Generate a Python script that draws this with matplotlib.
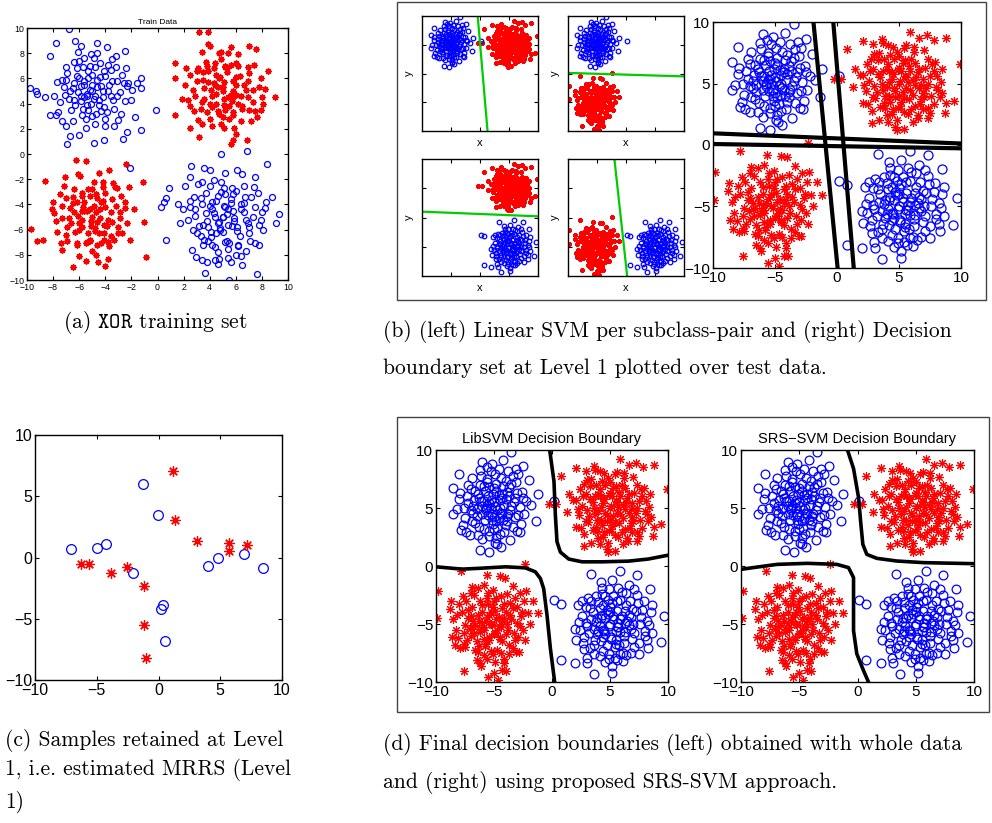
import numpy as np
import matplotlib.pyplot as plt
from matplotlib.patches import Rectangle

# ---------------- training data (a) ----------------
train_blue_ul = [
    (-5.2, 5.1), (-4.8, 4.6), (-5.6, 5.8), (-4.3, 5.4), (-6.1, 4.9), (-5.0, 6.3), (-4.5, 3.9), (-5.9, 4.2),
    (-3.8, 5.0), (-6.4, 5.6), (-5.3, 3.5), (-4.1, 6.6), (-6.8, 4.4), (-3.4, 4.3), (-5.7, 6.9), (-4.6, 5.9),
    (-5.1, 4.0), (-6.2, 6.2), (-3.9, 3.3), (-4.4, 7.2), (-6.6, 3.5), (-3.1, 5.8), (-5.5, 2.8), (-4.9, 7.6),
    (-7.2, 5.3), (-3.6, 6.7), (-5.8, 3.1), (-4.2, 4.5), (-6.0, 7.4), (-3.3, 3.6), (-7.5, 4.1), (-2.9, 4.9),
    (-5.4, 4.6), (-4.7, 3.2), (-6.3, 3.9), (-3.7, 5.5), (-5.0, 5.5), (-4.0, 2.8), (-6.9, 6.4), (-2.7, 6.3),
    (-7.6, 3.3), (-5.2, 7.0), (-3.0, 2.7), (-6.5, 2.6), (-4.4, 6.1), (-5.6, 4.5), (-3.5, 7.5), (-7.0, 6.9),
    (-2.5, 4.2), (-4.8, 2.4), (-6.7, 5.0), (-3.2, 6.9), (-5.9, 5.4), (-4.1, 3.7), (-5.3, 6.6), (-7.3, 2.6),
    (-2.8, 3.2), (-4.6, 8.0), (-6.1, 8.1), (-2.3, 5.4), (-6.8, 9.95), (-7.8, 8.8), (-8.26, 7.8), (-5.9, 8.6),
    (-4.6, 8.8), (-2.5, 8.2), (-9.8, 5.27), (-9.33, 5.0), (-9.2, 4.8), (-8.26, 3.1), (-7.8, 3.1), (-7.0, 2.25),
    (-6.94, 0.76), (-6.68, 1.4), (-6.04, 1.5), (-4.9, 0.9), (-4.1, 1.15), (-2.62, 1.2), (-2.3, 1.74),
    (-1.24, 1.9), (-1.75, 2.9), (-1.24, 5.2), (-1.24, 6.0), (-0.09, 3.5), (-1.55, 5.67), (-1.95, 5.1),
    (-2.26, 5.67), (-7.9, 4.6), (-7.3, 5.9), (-6.4, 7.3), (-5.1, 7.9), (-3.2, 7.8), (-2.4, 6.8),
    (-5.0, 5.0), (-4.6, 5.3), (-5.4, 4.8), (-4.9, 4.4), (-5.6, 5.5), (-4.2, 5.0), (-6.0, 6.0), (-5.3, 6.0),
    (-4.5, 4.3), (-5.9, 4.6), (-3.6, 4.6), (-6.5, 5.2), (-4.0, 6.2), (-5.4, 3.9), (-4.8, 6.9), (-6.4, 4.3),
    (-3.5, 5.8), (-5.7, 3.6), (-4.3, 3.4), (-6.2, 6.8), (-3.1, 4.6), (-7.1, 4.7), (-5.0, 3.0), (-3.8, 7.1),
    (-7.0, 5.9), (-2.6, 5.6), (-5.6, 7.6), (-4.0, 2.2), (-7.7, 5.7), (-3.3, 2.2), (-5.5, 2.1), (-6.3, 9.0),
    (-2.0, 4.3), (-8.6, 4.5), (-3.9, 8.5),
]
train_red_ur = [
    (5.0, 5.3), (4.5, 4.8), (5.8, 5.8), (4.3, 5.6), (6.0, 4.7), (5.3, 6.5), (4.5, 4.0), (5.7, 4.2),
    (3.6, 5.2), (6.6, 5.5), (5.2, 3.5), (3.9, 6.6), (6.9, 4.5), (3.4, 4.1), (5.6, 7.1), (4.8, 6.1),
    (5.1, 3.9), (6.3, 6.2), (3.8, 3.3), (4.4, 7.2), (6.5, 3.6), (3.0, 5.8), (5.5, 2.8), (4.9, 7.5),
    (7.3, 5.1), (3.5, 6.5), (5.8, 3.1), (4.2, 4.6), (6.0, 7.2), (3.3, 3.6), (7.3, 4.1), (2.7, 5.1),
    (5.6, 4.7), (4.7, 3.2), (6.2, 4.0), (3.9, 5.7), (5.1, 5.7), (4.0, 2.8), (7.0, 6.4), (2.5, 6.3),
    (7.5, 3.4), (5.2, 7.0), (3.1, 2.7), (6.4, 2.6), (4.5, 6.3), (5.8, 4.5), (3.7, 7.3), (6.9, 6.9),
    (2.3, 4.3), (4.9, 2.4), (6.8, 5.1), (3.1, 6.8), (6.0, 5.5), (4.2, 3.7), (5.3, 6.8), (7.2, 2.6),
    (2.8, 3.4), (4.7, 8.0), (6.2, 7.9), (2.1, 5.5), (3.18, 9.7), (3.85, 9.7), (4.05, 8.6), (3.38, 8.06),
    (4.87, 8.06), (5.4, 8.0), (7.0, 8.6), (7.52, 8.3), (1.37, 7.2), (1.37, 6.0), (1.37, 3.07), (2.46, 2.03),
    (3.2, 1.37), (5.6, 0.78), (6.86, 1.1), (5.82, 1.15), (8.45, 6.57), (9.0, 4.55), (8.26, 5.14),
    (7.9, 3.5), (7.65, 2.96), (5.84, 2.08), (5.1, 2.1), (2.2, 6.8), (1.9, 4.4), (7.9, 6.0), (8.1, 4.0),
    (5.0, 5.0), (5.4, 4.5), (4.6, 5.3), (5.1, 4.4), (4.4, 5.5), (5.8, 5.0), (4.0, 4.0), (4.7, 6.0),
    (5.5, 3.8), (4.1, 5.1), (6.4, 4.6), (3.5, 5.9), (6.0, 6.1), (4.6, 3.4), (5.2, 6.9), (3.6, 4.4),
    (6.5, 3.8), (4.3, 6.8), (5.8, 3.3), (3.8, 7.0), (6.9, 5.8), (2.9, 4.6), (5.0, 2.9), (6.2, 7.0),
    (3.0, 6.6), (7.0, 3.5), (4.2, 2.2), (7.8, 5.3), (3.4, 2.4), (5.6, 8.5), (2.5, 3.8), (7.4, 7.1),
    (8.0, 4.5), (6.0, 1.6), (3.9, 8.7),
]
train_red_ll = [
    (-5.1, -5.3), (-4.7, -4.6), (-5.8, -5.8), (-4.1, -5.6), (-6.1, -4.9), (-5.3, -6.3), (-4.3, -3.8),
    (-5.7, -4.2), (-3.8, -5.2), (-6.6, -5.5), (-5.2, -3.3), (-4.1, -6.8), (-6.7, -4.3), (-3.2, -4.1),
    (-5.5, -7.1), (-4.8, -6.1), (-4.9, -4.1), (-6.3, -6.2), (-4.0, -3.1), (-4.6, -7.2), (-6.5, -3.4),
    (-3.0, -5.8), (-5.3, -2.8), (-5.0, -7.7), (-7.3, -5.1), (-3.6, -6.5), (-5.8, -3.1), (-4.4, -4.4),
    (-6.2, -7.2), (-3.5, -3.6), (-7.3, -4.1), (-2.9, -5.1), (-5.6, -4.5), (-4.7, -3.2), (-6.2, -3.8),
    (-3.9, -5.7), (-5.1, -5.7), (-4.2, -2.6), (-7.0, -6.4), (-2.7, -6.3), (-7.5, -3.2), (-5.4, -7.0),
    (-3.1, -2.7), (-6.4, -2.8), (-4.5, -6.3), (-5.8, -4.5), (-3.7, -7.3), (-6.9, -6.9), (-2.5, -4.3),
    (-4.9, -2.2), (-6.8, -5.1), (-3.3, -6.8), (-6.0, -5.5), (-4.2, -3.7), (-5.2, -6.8), (-7.2, -2.5),
    (-2.8, -3.3), (-4.7, -8.0), (-6.0, -8.1), (-2.3, -5.5), (-9.7, -5.96), (-9.2, -6.87), (-8.77, -6.79),
    (-8.65, -2.17), (-6.22, -0.49), (-5.5, -0.52), (-7.34, -7.6), (-6.5, -8.99), (-4.56, -8.6),
    (-4.02, -8.86), (-2.44, -0.76), (-1.1, -2.2), (-1.06, -5.4), (-0.9, -8.2), (-2.13, -6.8),
    (-3.28, -2.6), (-3.74, -1.24), (-5.96, -1.77), (-7.9, -4.7), (-7.7, -6.2), (-8.0, -3.8),
    (-2.2, -2.6), (-1.8, -4.4), (-7.1, -1.8), (-4.5, -1.5),
    (-5.0, -5.0), (-5.4, -4.5), (-4.6, -5.4), (-5.2, -4.4), (-4.4, -5.1), (-5.8, -5.2), (-4.0, -4.2),
    (-4.8, -5.9), (-5.6, -3.8), (-4.1, -6.3), (-6.4, -4.6), (-3.5, -5.4), (-6.0, -6.0), (-4.6, -3.5),
    (-5.2, -6.9), (-3.6, -4.6), (-6.5, -3.9), (-4.3, -7.1), (-5.8, -3.3), (-3.8, -7.0), (-6.9, -5.8),
    (-2.9, -4.6), (-5.0, -2.8), (-6.2, -7.1), (-3.0, -6.3), (-7.0, -3.5), (-4.2, -2.2), (-7.8, -5.3),
    (-3.4, -2.3), (-5.5, -8.5), (-2.5, -3.8), (-7.4, -7.1), (-8.1, -4.4), (-6.1, -1.6), (-3.8, -8.3),
]
train_blue_lr = [
    (5.3, -4.8), (4.7, -5.4), (5.9, -5.1), (4.2, -4.4), (6.1, -5.8), (5.0, -6.2), (4.5, -3.7), (5.6, -3.9),
    (3.8, -5.3), (6.6, -4.6), (5.2, -3.2), (4.1, -6.6), (6.9, -5.5), (3.4, -4.0), (5.5, -7.1), (4.8, -5.9),
    (5.1, -4.1), (6.3, -6.5), (3.7, -3.1), (4.4, -7.4), (6.7, -3.4), (3.2, -5.7), (5.7, -2.7), (4.6, -7.8),
    (7.3, -5.0), (3.6, -6.8), (6.0, -2.9), (4.3, -4.7), (6.2, -7.2), (3.3, -3.5), (7.5, -4.2), (2.9, -4.9),
    (5.4, -5.6), (4.9, -3.0), (6.4, -4.0), (3.9, -5.8), (5.0, -5.0), (4.0, -2.5), (7.0, -6.3), (2.7, -6.0),
    (7.7, -3.1), (5.4, -7.5), (3.1, -2.4), (6.6, -2.5), (4.5, -6.3), (5.8, -4.5), (3.5, -7.2), (7.1, -6.9),
    (2.5, -4.2), (4.9, -2.2), (6.8, -5.2), (3.3, -6.5), (5.7, -5.7), (4.2, -3.8), (5.3, -6.9), (7.4, -2.6),
    (2.8, -3.4), (4.7, -8.3), (6.0, -8.0), (2.3, -5.2), (8.0, -4.6), (7.8, -5.6), (8.3, -3.8), (6.5, -1.6),
    (5.2, -1.5), (4.0, -1.3), (3.6, -1.1), (7.5, -1.8), (-2.08, -1.15), (0.29, -4.2), (0.5, -3.8),
    (0.67, -3.5), (0.9, -2.7), (0.65, -6.8), (1.6, -4.0), (1.95, -4.34), (1.72, -5.48), (2.08, -2.5),
    (2.46, -1.82), (2.53, -0.94), (4.9, 0.0), (6.86, 0.25), (8.4, -0.8), (8.8, -3.4), (9.3, -4.8),
    (9.05, -5.48), (8.08, -6.0), (7.77, -7.26), (7.65, -9.5), (5.5, -10.0), (4.38, -8.4), (4.63, -8.72),
    (3.61, -9.44), (3.44, -8.4), (2.64, -7.6), (2.97, -8.2), (6.4, -8.06), (6.79, -7.67), (5.4, -8.27),
    (6.47, -8.8),
    (5.0, -5.0), (5.4, -4.4), (4.6, -5.5), (5.2, -4.2), (4.4, -5.0), (5.9, -5.3), (4.0, -4.1), (4.8, -6.0),
    (5.6, -3.6), (4.1, -6.2), (6.4, -4.4), (3.5, -5.6), (6.1, -6.1), (4.6, -3.3), (5.2, -7.0), (3.7, -4.7),
    (6.6, -3.9), (4.2, -7.2), (5.8, -3.2), (3.9, -6.9), (7.0, -5.8), (2.9, -4.4), (5.1, -2.7), (6.2, -7.3),
    (3.0, -6.3), (7.2, -3.4), (4.3, -2.1), (7.9, -5.2), (3.4, -2.2), (5.6, -8.6), (2.5, -3.7), (7.5, -7.1),
    (8.2, -4.3), (6.1, -1.3), (3.8, -8.6),
]

# ---------------- test data (b), (d) ----------------
test_blue_ul = [
    (-5.0, 5.5), (-4.5, 5.0), (-5.5, 6.0), (-4.0, 5.8), (-6.0, 5.2), (-5.2, 4.5), (-4.8, 6.5), (-5.8, 4.0),
    (-3.6, 4.8), (-6.4, 6.2), (-5.1, 3.6), (-4.2, 6.9), (-6.8, 4.6), (-3.3, 5.5), (-5.6, 7.2), (-4.6, 4.1),
    (-6.2, 7.0), (-3.9, 3.9), (-4.4, 7.6), (-6.6, 3.7), (-3.0, 6.3), (-5.4, 3.0), (-4.9, 7.9), (-7.2, 5.4),
    (-3.5, 7.1), (-5.9, 3.2), (-4.3, 4.5), (-6.1, 7.8), (-3.2, 4.2), (-7.5, 4.1), (-2.8, 5.1), (-5.3, 5.0),
    (-4.7, 3.3), (-6.5, 4.3), (-3.7, 6.0), (-5.1, 6.2), (-4.1, 2.9), (-7.0, 6.6), (-2.6, 6.4), (-7.7, 3.5),
    (-5.3, 8.2), (-3.0, 3.0), (-6.4, 2.7), (-4.3, 6.2), (-5.7, 4.8), (-3.4, 7.8), (-7.2, 7.0), (-2.4, 4.5),
    (-4.8, 2.4), (-6.8, 5.2), (-3.1, 7.2), (-5.9, 5.6), (-4.0, 3.5), (-5.4, 6.8), (-7.4, 2.9), (-2.7, 3.6),
    (-4.6, 8.4), (-6.2, 8.3), (-2.2, 5.6), (-8.0, 5.8), (-8.2, 4.9), (-7.9, 6.3), (-6.9, 3.9), (-5.0, 4.2),
    (-4.5, 5.7), (-5.6, 5.3), (-3.8, 4.5), (-6.3, 5.9), (-4.9, 2.0), (-3.6, 2.2), (-3.5, 9.8), (-5.64, 8.57),
    (-7.98, 7.97), (-2.46, 8.65), (-3.14, 8.4), (-8.5, 6.76), (-8.5, 4.46), (-1.25, 6.2), (-1.39, 3.9),
    (-2.73, 2.9), (-6.23, 1.35), (-5.42, 1.2), (-4.75, 1.9), (-7.04, 2.7), (-7.85, 3.1), (0.17, 5.6),
    (-1.8, 5.3), (-2.0, 7.4), (-6.0, 9.0), (-4.2, 9.1),
    (-4.9, 5.2), (-5.3, 5.7), (-4.4, 4.6), (-5.7, 5.0), (-4.6, 6.1), (-5.5, 4.4), (-4.1, 5.3), (-6.1, 5.6),
    (-5.0, 6.7), (-4.8, 3.9), (-3.9, 6.4), (-6.5, 4.9), (-5.2, 4.0), (-4.3, 5.9), (-5.8, 6.5), (-3.5, 5.2),
    (-6.0, 4.5), (-4.7, 4.8), (-5.4, 5.4), (-4.2, 4.0), (-6.7, 5.7), (-3.7, 6.8), (-5.0, 3.2), (-5.6, 7.5),
    (-4.0, 7.3), (-6.3, 3.4), (-3.2, 5.9), (-7.0, 4.8), (-4.5, 2.8), (-5.9, 6.9), (-3.9, 4.3), (-6.6, 6.5),
    (-4.8, 7.1), (-5.4, 2.6), (-3.4, 3.4), (-7.3, 6.0), (-2.9, 4.4), (-6.0, 2.3), (-5.2, 8.8), (-3.8, 8.2),
    (-7.6, 5.0), (-2.5, 5.9), (-6.9, 7.6), (-4.4, 1.6), (-2.9, 7.9),
]
test_red_ur = [
    (5.0, 5.0), (4.4, 5.4), (5.6, 4.6), (4.0, 4.7), (6.1, 5.3), (5.2, 6.0), (4.7, 3.9), (5.8, 3.7),
    (3.5, 5.5), (6.5, 5.9), (5.1, 3.2), (4.1, 6.6), (6.9, 4.2), (3.2, 4.3), (5.5, 6.9), (4.6, 4.6),
    (6.3, 6.7), (3.8, 3.4), (4.3, 7.3), (6.7, 3.3), (2.9, 6.2), (5.4, 2.7), (4.8, 7.6), (7.3, 5.0),
    (3.3, 6.9), (6.0, 2.9), (4.2, 4.0), (6.2, 7.6), (3.1, 3.8), (7.6, 4.0), (2.6, 5.2), (5.3, 4.3),
    (4.5, 2.9), (6.6, 4.6), (3.7, 6.0), (5.0, 6.3), (4.0, 2.4), (7.1, 6.3), (2.4, 6.6), (7.8, 3.3),
    (5.4, 7.9), (2.8, 2.8), (6.5, 2.4), (4.2, 6.0), (5.7, 5.1), (3.4, 7.5), (7.3, 7.0), (2.3, 4.4),
    (4.8, 2.0), (6.9, 5.4), (3.0, 7.4), (5.9, 6.0), (3.9, 3.0), (5.3, 6.7), (7.5, 2.6), (2.5, 3.3),
    (4.5, 8.0), (6.2, 8.0), (2.1, 5.7), (8.1, 5.6), (8.0, 4.7), (7.8, 6.0), (6.8, 3.7), (5.0, 4.0),
    (4.4, 5.9), (5.6, 5.5), (3.7, 4.5), (6.3, 4.9), (4.7, 1.5), (3.4, 2.0), (5.88, 9.19), (6.6, 8.73),
    (7.22, 8.92), (7.82, 8.5), (8.76, 8.7), (2.06, 8.43), (2.92, 8.19), (3.68, 8.3), (4.13, 8.16),
    (0.77, 7.78), (2.74, 7.03), (9.9, 6.6), (-0.26, 5.35), (0.36, 5.35), (1.3, 4.68), (2.06, 3.38),
    (2.79, 1.76), (4.8, 1.2), (6.55, 2.16), (7.36, 2.16), (8.7, 2.57), (8.8, 3.38), (9.4, 3.6),
    (8.3, 3.9), (7.36, 2.97), (8.44, 6.2), (7.9, 6.76), (8.17, 4.46), (1.44, 6.2), (1.84, 5.68),
    (5.1, 5.2), (4.7, 4.4), (5.5, 5.6), (4.2, 5.1), (5.9, 4.5), (4.9, 6.1), (5.4, 3.8), (4.5, 5.8),
    (6.1, 4.1), (3.9, 4.0), (6.4, 5.5), (4.3, 3.5), (5.8, 6.4), (3.6, 5.0), (6.8, 4.9), (5.2, 3.5),
    (4.0, 6.2), (6.0, 7.0), (3.3, 5.8), (7.0, 3.9), (4.6, 7.0), (5.7, 2.5), (3.0, 4.8), (7.5, 5.6),
    (4.9, 3.0), (6.6, 6.2), (3.5, 3.1), (5.0, 7.2), (6.3, 3.2), (2.7, 6.0), (7.2, 4.6), (4.4, 2.5),
    (5.6, 8.1), (3.8, 7.0), (7.7, 6.6), (2.9, 3.9), (6.1, 1.9), (4.1, 1.9), (8.4, 5.1), (2.2, 4.9),
    (3.6, 8.6), (7.0, 7.7), (6.9, 2.9), (5.4, 1.3), (8.5, 4.2),
]
test_red_ll = [
    (-5.3, -5.0), (-4.8, -4.6), (-5.9, -5.5), (-4.4, -5.3), (-6.3, -4.7), (-5.4, -6.1), (-4.9, -3.9),
    (-6.0, -4.0), (-3.9, -5.0), (-6.7, -5.8), (-5.5, -3.3), (-4.3, -6.5), (-7.0, -4.3), (-3.6, -4.2),
    (-5.8, -6.9), (-4.9, -5.8), (-6.5, -6.5), (-4.1, -3.3), (-4.7, -7.2), (-6.9, -3.5), (-3.3, -5.8),
    (-5.6, -2.8), (-5.1, -7.6), (-7.5, -5.1), (-3.7, -6.8), (-6.2, -3.0), (-4.6, -4.4), (-6.4, -7.4),
    (-3.4, -3.6), (-7.8, -4.0), (-3.0, -4.9), (-5.6, -4.4), (-5.0, -3.0), (-6.8, -4.7), (-4.0, -5.9),
    (-5.4, -6.4), (-4.4, -2.6), (-7.3, -6.4), (-2.9, -6.1), (-8.0, -3.3), (-5.6, -8.0), (-3.2, -2.8),
    (-6.7, -2.5), (-4.5, -6.1), (-6.0, -4.9), (-3.7, -7.6), (-7.5, -7.0), (-2.7, -4.3), (-5.1, -2.1),
    (-7.1, -5.4), (-3.4, -7.1), (-6.2, -5.7), (-4.3, -3.6), (-5.7, -6.7), (-7.7, -2.6), (-3.0, -3.5),
    (-4.9, -8.3), (-6.5, -8.1), (-2.5, -5.5), (-8.3, -5.5), (-8.5, -4.6), (-8.1, -6.2), (-7.2, -3.8),
    (-5.3, -4.0), (-4.7, -5.5), (-5.9, -5.3), (-4.1, -4.5), (-6.6, -5.1), (-2.8, -2.3), (-2.4, -3.0),
    (-9.86, -2.16), (-9.9, -4.46), (-8.73, -3.05), (-7.85, -0.46), (-5.64, -0.81), (-4.48, -0.86),
    (-4.07, -1.0), (-2.33, 0.14), (-1.25, -4.05), (-2.25, -2.16), (-7.58, -9.05), (-5.56, -9.6),
    (-4.67, -9.86), (-3.95, -9.05), (-4.14, -8.38), (-6.23, -8.38), (-7.58, -6.76), (-8.66, -6.08),
    (-2.87, -7.43), (-1.92, -5.0), (-2.1, -4.05), (-6.9, -1.8), (-5.9, -1.6), (-1.6, -3.0),
    (-5.2, -5.1), (-4.6, -5.2), (-5.7, -4.7), (-5.0, -5.9), (-4.3, -4.7), (-6.1, -5.4), (-5.4, -4.2),
    (-4.5, -6.3), (-6.4, -4.2), (-3.8, -5.5), (-5.9, -6.3), (-4.0, -4.0), (-6.8, -5.2), (-5.1, -3.5),
    (-3.5, -4.6), (-6.3, -6.9), (-4.4, -7.5), (-7.2, -4.5), (-5.3, -7.3), (-3.2, -6.4), (-7.0, -6.0),
    (-4.8, -2.8), (-6.0, -3.4), (-3.6, -3.2), (-7.6, -5.8), (-5.9, -7.7), (-2.8, -5.2), (-4.1, -8.0),
    (-7.4, -3.0), (-3.9, -2.4), (-6.6, -7.2), (-2.6, -4.0), (-5.5, -2.3), (-8.2, -4.2), (-3.1, -7.4),
    (-6.1, -8.6), (-7.9, -7.1), (-4.3, -9.0), (-8.8, -3.7), (-2.3, -6.4), (-6.4, -1.9), (-3.4, -1.7),
    (-8.4, -6.8), (-5.0, -9.2), (-7.0, -2.3),
]
test_blue_lr = [
    (5.0, -5.0), (4.6, -4.5), (5.5, -5.6), (4.1, -5.2), (5.9, -4.6), (5.1, -6.1), (4.7, -3.8), (5.6, -3.9),
    (3.8, -4.8), (6.3, -5.7), (5.2, -3.2), (4.2, -6.5), (6.6, -4.2), (3.5, -4.0), (5.4, -7.0), (4.6, -5.9),
    (6.2, -6.6), (4.0, -3.1), (4.4, -7.3), (6.4, -3.4), (3.2, -5.8), (5.3, -2.6), (4.9, -7.6), (7.0, -5.0),
    (3.6, -6.8), (5.9, -2.9), (4.3, -4.2), (6.1, -7.5), (3.3, -3.6), (7.2, -3.9), (2.9, -4.9), (5.3, -4.3),
    (4.8, -2.9), (6.5, -4.7), (3.9, -5.9), (5.1, -6.3), (4.3, -2.4), (6.9, -6.3), (2.8, -6.1), (7.4, -3.2),
    (5.4, -7.9), (3.1, -2.8), (6.4, -2.3), (4.4, -6.1), (5.7, -4.9), (3.6, -7.6), (7.1, -7.0), (2.6, -4.3),
    (4.9, -2.0), (6.8, -5.4), (3.3, -7.1), (5.9, -5.7), (4.1, -3.6), (5.5, -6.7), (7.3, -2.5), (2.9, -3.5),
    (4.6, -8.3), (6.1, -8.2), (2.4, -5.5), (8.0, -5.6), (8.2, -4.7), (8.0, -6.0), (6.9, -3.7), (5.0, -4.0),
    (4.4, -5.5), (5.6, -5.3), (3.9, -4.5), (6.3, -4.9), (8.4, -5.1), (7.7, -4.4), (5.88, -0.46),
    (3.33, -0.73), (0.17, -2.92), (0.77, -3.24), (7.36, -0.81), (8.49, -1.95), (7.9, -3.05), (9.65, -4.27),
    (9.38, -6.54), (8.3, -7.03), (0.77, -8.1), (1.98, -8.38), (3.06, -8.38), (3.65, -9.27), (5.16, -9.19),
    (5.61, -8.1), (6.42, -7.7), (7.5, -7.57), (2.25, -3.38), (1.98, -5.4), (2.11, -6.35), (2.79, -7.16),
    (4.2, -1.4), (5.2, -1.2), (6.6, -1.6), (8.6, -5.8), (8.5, -4.0),
    (4.9, -5.2), (5.3, -4.6), (4.5, -5.6), (5.7, -5.3), (4.2, -4.5), (5.5, -6.4), (4.8, -4.1), (6.0, -4.3),
    (4.0, -5.6), (5.8, -6.8), (4.7, -6.8), (6.3, -3.9), (3.6, -5.4), (6.6, -5.1), (5.0, -3.5), (4.4, -3.4),
    (6.2, -6.0), (3.7, -6.4), (5.9, -7.6), (3.4, -4.6), (6.8, -4.4), (4.9, -8.0), (5.6, -3.0), (3.0, -5.2),
    (7.1, -5.8), (4.1, -7.8), (6.7, -3.0), (3.4, -3.0), (7.5, -6.6), (4.6, -2.6), (7.6, -5.0), (2.7, -6.6),
    (6.0, -2.2), (3.8, -2.6), (7.8, -3.8), (5.2, -8.6), (3.0, -7.9), (6.8, -7.5), (2.3, -4.8), (8.2, -6.4),
    (4.3, -1.9), (5.7, -1.9), (7.1, -2.0), (8.6, -3.4), (2.6, -3.0),
]

# ---------------- retained samples (c) ----------------
mrrs_blue_x = [-7.05, -5.0, -4.25, -2.09, -1.25, -0.03, 0.35, 0.22, 0.54, 3.98, 4.85, 6.94, 8.43]
mrrs_blue_y = [0.69, 0.8, 1.13, -1.24, 5.97, 3.47, -3.88, -4.23, -6.82, -0.69, 0.0, 0.26, -0.83]
mrrs_red_x = [-6.29, -5.61, -3.82, -2.55, -1.14, 1.19, 1.3, 3.14, 5.72, 5.72, 7.13, -1.14, -1.0]
mrrs_red_y = [-0.56, -0.5, -1.24, -0.78, -2.3, 7.06, 3.06, 1.35, 1.16, 0.56, 1.02, -5.51, -8.23]

# ---------------- linear SVM boundaries (b) ----------------
pair_lines = {
    'tl': ([-0.4, 1.3], [10, -10]),
    'tr': ([-10, 10], [0.1, -0.5]),
    'bl': ([-10, 10], [1.0, 0.2]),
    'br': ([-2.0, 0.2], [10, -10]),
}
level1_lines = [
    ([-1.9, 0.05], [10, -10]),
    ([-0.3, 1.35], [10, -10]),
    ([-10, 10], [0.95, 0.12]),
    ([-10, 10], [0.08, -0.27]),
]

# ---------------- final boundaries (d) ----------------
lib_upper_x = [-0.2, 0.17, 0.29, 0.43, 0.72, 1.44, 2.6, 4.3, 6.6, 8.3, 10]
lib_upper_y = [10, 7.3, 4.4, 2.1, 1.2, 0.6, 0.36, 0.36, 0.42, 0.6, 0.93]
lib_lower_x = [-10, -7.75, -6.3, -4.0, -2.3, -1.44, -1.0, -0.72, -0.43, -0.14, 0.23]
lib_lower_y = [-0.07, -0.27, -0.2, -0.07, -0.16, -0.5, -1.08, -1.94, -4.24, -7.1, -10]
srs_upper_x = [-0.86, -0.34, 0.09, 0.29, 0.46, 0.8, 1.66, 3.37, 5.66, 10]
srs_upper_y = [10, 8.4, 5.9, 3.6, 1.86, 1.0, 0.66, 0.43, 0.29, 0.2]
srs_lower_x = [-10, -8.6, -6.9, -4.3, -1.77, -0.77, -0.34, -0.34, -0.34, -0.06, 0.51, 0.94]
srs_lower_y = [-0.29, -0.09, 0.14, 0.23, 0.14, -0.14, -1.0, -3.0, -5.57, -7.57, -9.0, -10]

plt.rcParams['font.family'] = 'Liberation Sans'
plt.rcParams['mathtext.fontset'] = 'cm'

W, H = 992, 823
fig = plt.figure(figsize=(W / 100, H / 100), dpi=100)

STAR = (8, 2, 0)
BLUE = '#0000ff'
RED = '#ff0000'


def add_ax(x0, y0, x1, y1):
    return fig.add_axes([x0 / W, 1 - y1 / H, (x1 - x0) / W, (y1 - y0) / H])


def xy(pts):
    a = np.array(pts)
    return a[:, 0], a[:, 1]


def circles(ax, pts, ms):
    x, y = xy(pts)
    ax.plot(x, y, 'o', mfc='none', mec=BLUE, ms=ms, mew=0.9)


def stars(ax, pts, ms, mew=0.8):
    x, y = xy(pts)
    ax.plot(x, y, ls='none', marker=STAR, mec=RED, ms=ms, mew=mew)


def style(ax, fs, ticks, labels=True):
    ax.set_xlim(-10, 10)
    ax.set_ylim(-10, 10)
    ax.set_xticks(ticks)
    ax.set_yticks(ticks)
    if not labels:
        ax.set_xticklabels([])
        ax.set_yticklabels([])
    ax.tick_params(direction='in', top=True, right=True, labelsize=fs, length=3, pad=2)
    for s in ax.spines.values():
        s.set_linewidth(1.0)


# (a) training set
ax = add_ax(27, 28, 288, 280)
circles(ax, train_blue_ul, 4.3)
circles(ax, train_blue_lr, 4.3)
stars(ax, train_red_ur, 4.5, 1.0)
stars(ax, train_red_ll, 4.5, 1.0)
style(ax, 6.3, np.arange(-10, 11, 2))
ax.set_title('Train Data', fontsize=6, pad=3)

# (b) left: linear SVM per subclass pair
pairs = [
    ('tl', (422, 16, 538, 131), test_blue_ul, test_red_ur),
    ('tr', (568, 16, 684, 131), test_blue_ul, test_red_ll),
    ('bl', (422, 159, 538, 276), test_blue_lr, test_red_ur),
    ('br', (568, 159, 684, 276), test_blue_lr, test_red_ll),
]
for key, box, bpts, rpts in pairs:
    ax = add_ax(*box)
    stars(ax, rpts, 3.3, 1.0)
    circles(ax, bpts, 3.3)
    lx, ly = pair_lines[key]
    ax.plot(lx, ly, color='#00cc00', lw=1.6)
    style(ax, 6, [-5, 0, 5], labels=False)
    ax.set_xlabel('x', fontsize=8, labelpad=3)
    ax.set_ylabel('y', fontsize=8, labelpad=4)

# (b) right: level 1 boundary set
ax = add_ax(713, 22, 961, 268)
circles(ax, test_blue_ul, 6.5)
circles(ax, test_blue_lr, 6.5)
stars(ax, test_red_ur, 6.5)
stars(ax, test_red_ll, 6.5)
for lx, ly in level1_lines:
    ax.plot(lx, ly, color='black', lw=3.0, zorder=5)
style(ax, 11, [-10, -5, 0, 5, 10])

# (c) retained samples
ax = add_ax(35, 435, 282, 680)
ax.plot(mrrs_blue_x, mrrs_blue_y, 'o', mfc='none', mec=BLUE, ms=7, mew=0.9)
ax.plot(mrrs_red_x, mrrs_red_y, ls='none', marker=STAR, mec=RED, ms=7.5, mew=0.9)
style(ax, 11.5, [-10, -5, 0, 5, 10])

# (d) final decision boundaries
finals = [
    ((436, 450, 668, 682), 'LibSVM Decision Boundary', (lib_upper_x, lib_upper_y), (lib_lower_x, lib_lower_y)),
    ((741, 450, 974, 682), 'SRS\u2212SVM Decision Boundary', (srs_upper_x, srs_upper_y), (srs_lower_x, srs_lower_y)),
]
for box, title, up, lo in finals:
    ax = add_ax(*box)
    circles(ax, test_blue_ul, 6.3)
    circles(ax, test_blue_lr, 6.3)
    stars(ax, test_red_ur, 6.3)
    stars(ax, test_red_ll, 6.3)
    ax.plot(*up, color='black', lw=2.6, zorder=5)
    ax.plot(*lo, color='black', lw=2.6, zorder=5)
    style(ax, 11, [-10, -5, 0, 5, 10])
    ax.set_title(title, fontsize=10.5, pad=5)

# frames around (b) and (d)
for x0, y0, x1, y1 in [(397, 2, 986, 300), (397, 417, 989, 712)]:
    fig.patches.append(Rectangle((x0 / W, 1 - y1 / H), (x1 - x0) / W, (y1 - y0) / H,
                                 transform=fig.transFigure, fill=False, ec='#444444', lw=1.0))

# captions
cap = dict(family='cmr10', fontsize=15.5, va='center', ha='left')
fig.text(63 / W, 1 - 323 / H, r'(a) $\mathtt{XOR}$ training set', **cap)
fig.text(383 / W, 1 - 331 / H, '(b) (left) Linear SVM per subclass-pair and (right) Decision', **cap)
fig.text(383 / W, 1 - 368 / H, 'boundary set at Level 1 plotted over test data.', **cap)
fig.text(5 / W, 1 - 740 / H, '(c) Samples retained at Level', **cap)
fig.text(5 / W, 1 - 770 / H, '1, i.e. estimated MRRS (Level', **cap)
fig.text(5 / W, 1 - 802 / H, '1)', **cap)
fig.text(383 / W, 1 - 745 / H, '(d) Final decision boundaries (left) obtained with whole data', **cap)
fig.text(383 / W, 1 - 783 / H, 'and (right) using proposed SRS-SVM approach.', **cap)

fig.savefig('out.png', dpi=100)
